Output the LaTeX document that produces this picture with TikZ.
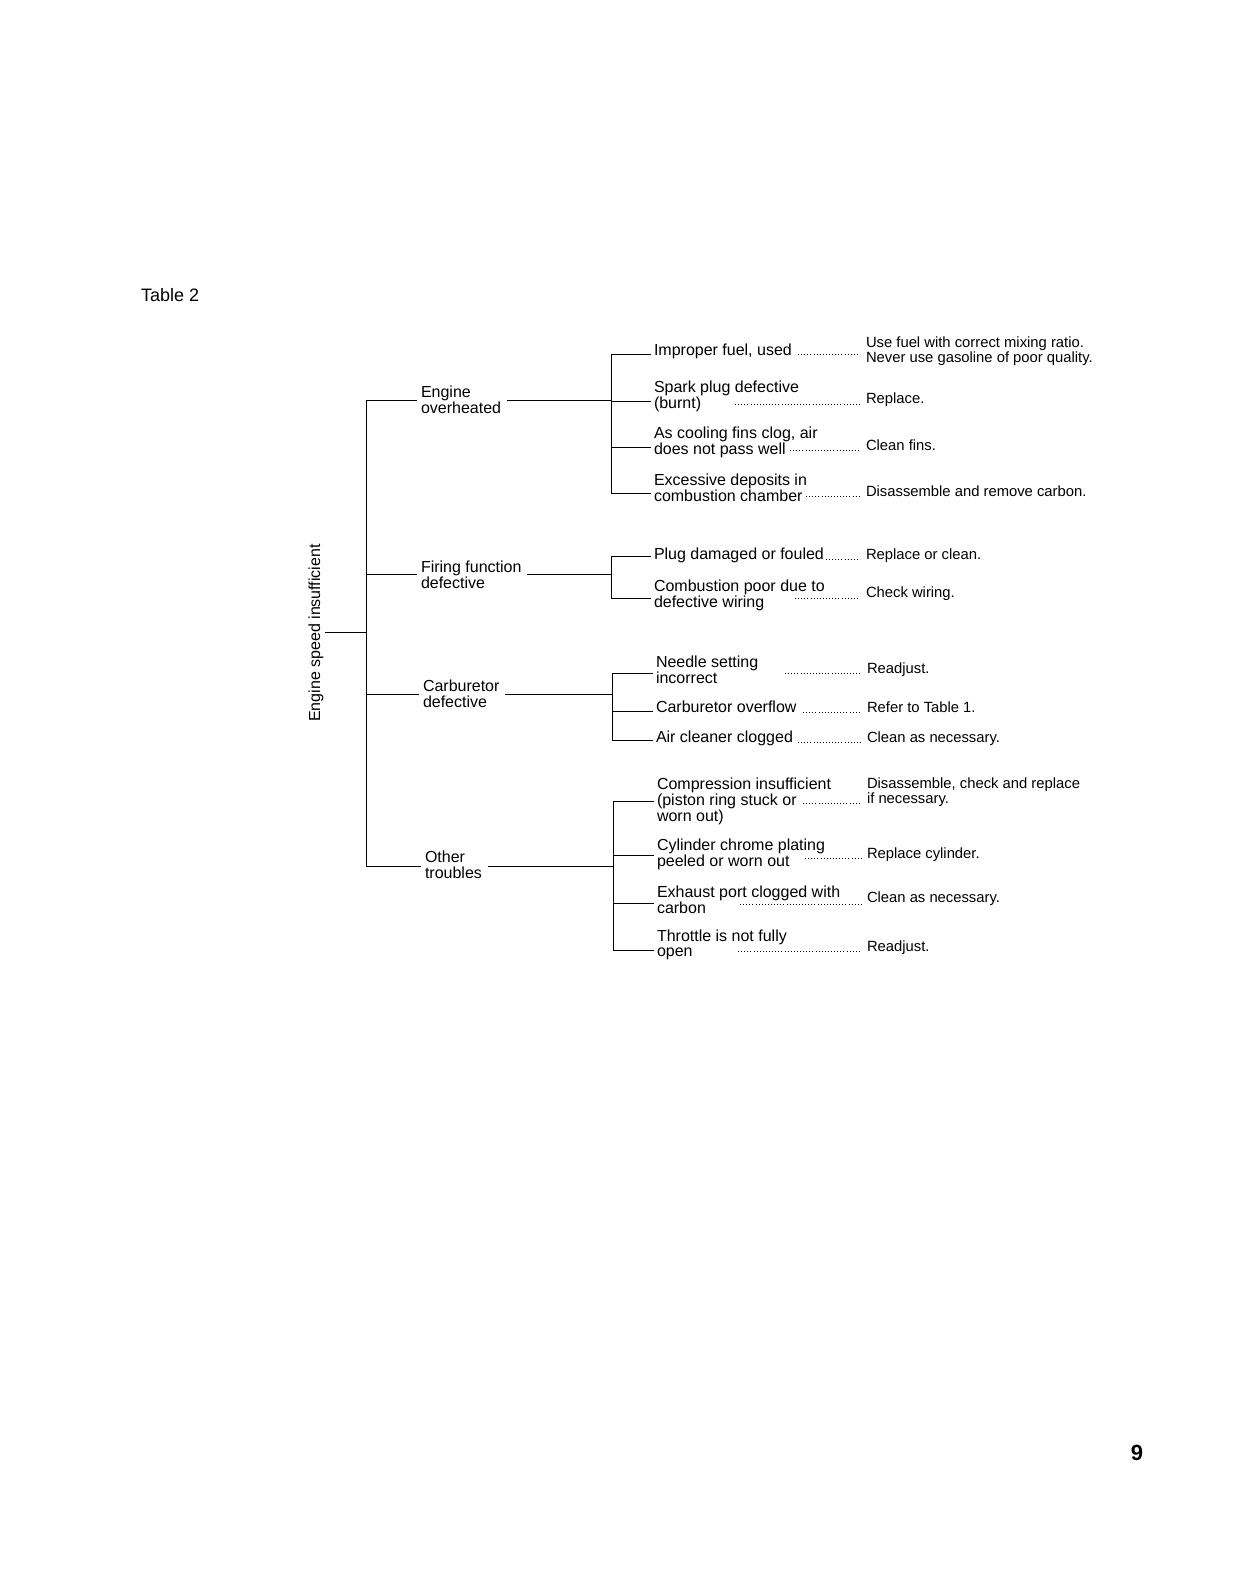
\documentclass[tikz,border=0pt]{standalone}
\usepackage{fontspec}
\setmainfont{Liberation Sans}
\newcommand\twoline[1]{\begin{tabular}[t]{@{}l@{}}#1\end{tabular}}
\begin{document}
\begin{tikzpicture}[x=0.5pt,y=-0.5pt,line width=0.45pt,
  txt/.style={anchor=base west, inner sep=0pt, outer sep=0pt, font=\fontsize{8}{7.6}\selectfont},
  ans/.style={txt, font=\fontsize{7.4}{7.4}\selectfont},
  leader/.style={line width=0.5pt, dash pattern=on 0.45pt off 1.1pt},
]
\useasboundingbox[fill=white] (0,0) rectangle (1245,1585);

% titles
\node[txt, font=\fontsize{9}{9}\selectfont] (title) at (141,301) {Table 2};
\node[txt, anchor=center, rotate=90] (root) at (316,633) {Engine speed insufficient};
\node[font=\bfseries\fontsize{11}{11}\selectfont, inner sep=0pt] (pg) at (1137,1453) {9};

% main tree
\coordinate (stem) at (325,632);
\coordinate (b1) at (366,400);
\coordinate (b2) at (366,574);
\coordinate (b3) at (366,694);
\coordinate (b4) at (366,866);
\draw (stem) -- (stem -| b1);
\draw (b1) -- (b4);

\node[txt] (g1) at (421,397) {\twoline{Engine\\overheated}};
\node[txt] (g2) at (421,572) {\twoline{Firing function\\defective}};
\node[txt] (g3) at (423,691) {\twoline{Carburetor\\defective}};
\node[txt] (g4) at (425,862) {\twoline{Other\\troubles}};

\coordinate (j1) at (611,400);
\coordinate (j2) at (611,574);
\coordinate (j3) at (612,694);
\coordinate (j4) at (613,866);

\foreach \k in {1,2,3,4}{
  \draw (b\k) -- ([xshift=-2pt]g\k.west |- b\k);
  \draw ([xshift=3pt]g\k.east |- j\k) -- (j\k);
}

% ---------- group 1 ----------
\coordinate (t11) at (611,354);
\coordinate (t12) at (611,401);
\coordinate (t13) at (611,447);
\coordinate (t14) at (611,493);
\draw (t11) -- (t14);
\node[txt] (i11) at (654,355) {Improper fuel, used};
\node[txt] (i12) at (654,392) {\twoline{Spark plug defective\\(burnt)}};
\node[txt] (i13) at (654,438) {\twoline{As cooling fins clog, air\\does not pass well}};
\node[txt] (i14) at (654,485) {\twoline{Excessive deposits in\\combustion chamber}};
\node[ans] (a11) at (866,347) {\twoline{Use fuel with correct mixing ratio.\\Never use gasoline of poor quality.}};
\node[ans] (a12) at (866,403) {Replace.};
\node[ans] (a13) at (866,450) {Clean fins.};
\node[ans] (a14) at (866,496) {Disassemble and remove carbon.};
\coordinate (l11) at (798,354);
\coordinate (l12) at (735,404);
\coordinate (l13) at (790,450);
\coordinate (l14) at (806,496);

% ---------- group 2 ----------
\coordinate (t21) at (611,556);
\coordinate (t22) at (611,598);
\draw (t21) -- (t22);
\node[txt] (i21) at (654,559) {Plug damaged or fouled};
\node[txt] (i22) at (654,591) {\twoline{Combustion poor due to\\defective wiring}};
\node[ans] (a21) at (866,559) {Replace or clean.};
\node[ans] (a22) at (866,597) {Check wiring.};
\coordinate (l21) at ([xshift=1pt]i21.base east);
\coordinate (l22) at (795,598);

% ---------- group 3 ----------
\coordinate (t31) at (612,673);
\coordinate (t32) at (612,711);
\coordinate (t33) at (612,740);
\draw (t31) -- (t33);
\node[txt] (i31) at (656,667) {\twoline{Needle setting\\incorrect}};
\node[txt] (i32) at (656,712) {Carburetor overflow};
\node[txt] (i33) at (656,742) {Air cleaner clogged};
\node[ans] (a31) at (867,673) {Readjust.};
\node[ans] (a32) at (867,712) {Refer to Table 1.};
\node[ans] (a33) at (867,742) {Clean as necessary.};
\coordinate (l31) at (785,673);
\coordinate (l32) at (803,712);
\coordinate (l33) at (798,742);

% ---------- group 4 ----------
\coordinate (t41) at (613,801);
\coordinate (t42) at (613,855);
\coordinate (t43) at (613,903);
\coordinate (t44) at (613,950);
\draw (t41) -- (t44);
\node[txt] (i41) at (657,789) {\twoline{Compression insufficient\\(piston ring stuck or\\worn out)}};
\node[txt] (i42) at (657,850) {\twoline{Cylinder chrome plating\\peeled or worn out}};
\node[txt] (i43) at (657,897) {\twoline{Exhaust port clogged with\\carbon}};
\node[txt] (i44) at (657,941) {\twoline{Throttle is not fully\\open}};
\node[ans] (a41) at (867,788) {\twoline{Disassemble, check and replace\\if necessary.}};
\node[ans] (a42) at (867,858) {Replace cylinder.};
\node[ans] (a43) at (867,902) {Clean as necessary.};
\node[ans] (a44) at (867,951) {Readjust.};
\coordinate (l41) at (803,803);
\coordinate (l42) at (805,858);
\coordinate (l43) at (740,904);
\coordinate (l44) at (738,951);

% ticks and leaders
\foreach \g/\n in {1/4,2/2,3/3,4/4}{
  \foreach \k in {1,...,\n}{
    \draw (t\g\k) -- ([xshift=-1.5pt]i\g\k.west |- t\g\k);
    \draw[leader] (l\g\k) -- ([xshift=-3pt]a\g\k.west |- l\g\k);
  }
}
\end{tikzpicture}
\end{document}
